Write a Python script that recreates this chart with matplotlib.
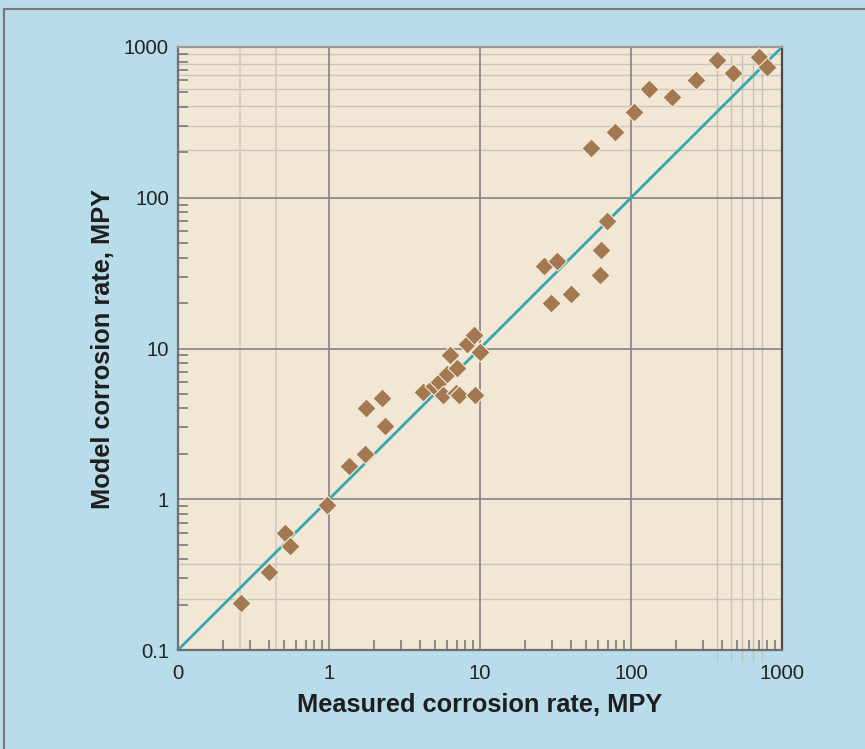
import numpy as np
import matplotlib
matplotlib.use('Agg')
import matplotlib.pyplot as plt
from matplotlib.ticker import LogLocator, NullFormatter

plt.rcParams['font.family'] = ['Liberation Sans', 'DejaVu Sans']

# Measured vs model corrosion rate (MPY)
measured = [0.26, 0.40, 0.51, 0.55, 0.97, 1.35, 1.72, 1.75, 2.25, 2.35,
            4.21, 4.96, 5.38, 5.71, 6.07, 6.33, 7.0, 6.94, 7.29, 9.27,
            8.16, 9.13, 10.0, 26.5, 32.5, 29.7, 40.0, 62.0, 63.6, 69.5,
            54.0, 78.0, 105.0, 131.0, 188.0, 269.0, 371.0, 476.0, 701.0, 792.0]
model = [0.205, 0.33, 0.60, 0.49, 0.92, 1.67, 2.0, 4.05, 4.7, 3.05,
         5.17, 5.64, 6.02, 4.92, 6.78, 9.05, 7.39, 5.04, 4.92, 4.92,
         10.7, 12.3, 9.52, 35.4, 38.0, 20.0, 22.9, 30.7, 45.0, 70.0,
         213.0, 274.0, 372.0, 526.0, 468.0, 604.0, 820.0, 669.0, 863.0, 740.0]

x_ticks = [0.1, 1, 10, 100, 1000]
x_tick_labels = ['0', '1', '10', '100', '1000']
y_ticks = [0.1, 1, 10, 100, 1000]
y_tick_labels = ['0.1', '1', '10', '100', '1000']

# stray light rules visible in the original artwork
light_h = [208, 301, 408, 526, 652, 768, 896, 0.218, 0.371]
light_v_low = [0.258, 0.443]
light_v_high = [371, 457, 546, 640, 738]

BG = '#b8dcea'
PANEL = '#f1e7d4'
MARK = '#a47850'
TEAL = '#36a5b3'

fig = plt.figure(figsize=(8.65, 7.49), dpi=100, facecolor=BG)
ax = fig.add_axes([178/865, 1-650/749, 604/865, 603/749])
ax.set_facecolor(PANEL)
ax.set_xscale('log')
ax.set_yscale('log')
ax.set_xlim(0.1, 1000)
ax.set_ylim(0.1, 1000)

# light rules
for v in light_h:
    ax.axhline(v, color='#c9c5bd', lw=1.0, zorder=1)
for v in light_v_low:
    ax.axvline(v, color='#cfcac2', lw=1.2, zorder=1)
for v in light_v_high:
    ax.plot([v, v], [-0.018, 0.985], color='#c4c2bd', lw=1.0, zorder=1,
            transform=ax.get_xaxis_transform(), clip_on=False)

# major grid
for v in [1, 10, 100]:
    ax.axhline(v, color='#8a8a8a', lw=1.3, zorder=1.5)
    ax.axvline(v, color='#8a8a8a', lw=1.3, zorder=1.5)

# 1:1 line
ax.plot([0.1, 1000], [0.1, 1000], color=TEAL, lw=2, zorder=2)

ax.scatter(measured, model, marker='D', s=95, color=MARK,
           edgecolors='#f3ead8', linewidths=0.8, zorder=3)

ax.set_xticks(x_ticks)
ax.set_xticklabels(x_tick_labels)
ax.set_yticks(y_ticks)
ax.set_yticklabels(y_tick_labels)
ax.xaxis.set_minor_locator(LogLocator(base=10, subs=np.arange(2, 10)))
ax.yaxis.set_minor_locator(LogLocator(base=10, subs=np.arange(2, 10)))
ax.xaxis.set_minor_formatter(NullFormatter())
ax.yaxis.set_minor_formatter(NullFormatter())
ax.tick_params(which='major', length=0, labelsize=14.7, labelcolor='#222222')
ax.tick_params(axis='x', which='major', pad=10)
ax.tick_params(axis='y', which='major', pad=6.5)
ax.tick_params(which='minor', direction='in', length=7, width=1.2, color='#7a7a7a')

for side in ['left', 'bottom', 'right']:
    ax.spines[side].set_color('#6f6f6f')
    ax.spines[side].set_linewidth(1.6)
ax.spines['top'].set_color('#9a9a9a')
ax.spines['top'].set_linewidth(1.6)
ax.spines['right'].set_color('#4a4a4a')

ax.set_xlabel('Measured corrosion rate, MPY', fontsize=18.3, fontweight='bold', color='#1e1e1e')
ax.set_ylabel('Model corrosion rate, MPY', fontsize=18.3, fontweight='bold', color='#1e1e1e')
ax.xaxis.set_label_coords(0.5, -0.091)
ax.xaxis.label.set_va('center')
ax.yaxis.set_label_coords(-0.124, 0.5)
ax.yaxis.label.set_va('center')

# outer frame of the figure box
fig.add_artist(plt.Line2D([4/865, 4/865], [0, 1-8.5/749], color='#777777', lw=1.5, transform=fig.transFigure))
fig.add_artist(plt.Line2D([4/865, 1], [1-8.5/749, 1-8.5/749], color='#777777', lw=1.5, transform=fig.transFigure))

fig.savefig('out.png', dpi=100, facecolor=BG)
